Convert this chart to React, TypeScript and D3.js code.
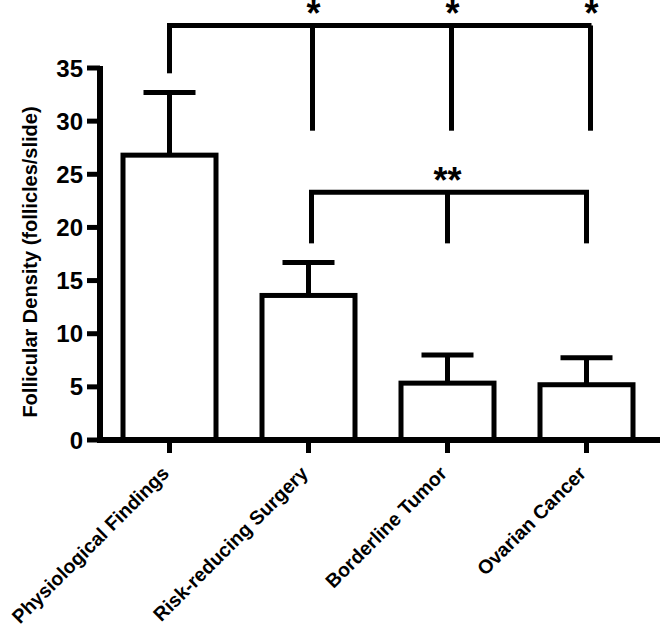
import React from "react";
import * as d3 from "d3";

const categories = ["Physiological Findings", "Risk-reducing Surgery", "Borderline Tumor", "Ovarian Cancer"];
const means = [26.8, 13.6, 5.35, 5.2];
const errors = [5.9, 3.1, 2.65, 2.55];
const yTicks = [0, 5, 10, 15, 20, 25, 30, 35];

// significance brackets: [fromIndex, toIndexes], bracket level, drop ends
const topBracketLevel = 39.0;
const topBracketFrom = 0;
const topBracketTo = [1, 2, 3];
const topBracketLeftEnd = 34.5;
const topBracketDropEnd = 29.1;
const topBracketLabels = ["*", "*", "*"];

const lowBracketLevel = 23.3;
const lowBracketFrom = 1;
const lowBracketTo = [2, 3];
const lowBracketDropEnd = 18.5;
const lowBracketLabel = "**";

const W = 660;
const H = 633;
const FONT = "'Liberation Sans', Arial, Helvetica, sans-serif";

export default function App() {
  const x0 = 100;
  const x = d3.scaleBand<string>().domain(categories).range([x0, x0 + 4 * 139]).paddingInner(0.33).paddingOuter(0.165);
  const y = d3.scaleLinear().domain([0, 35]).range([440, 68]);
  const cx = (i: number) => (x(categories[i]) as number) + x.bandwidth() / 2;
  const bw = 93;
  const cap = 52;
  const sw = 5;

  const topY = y(topBracketLevel);
  const lowY = y(lowBracketLevel);
  const topRight = cx(topBracketTo[topBracketTo.length - 1]);
  const lowRight = cx(lowBracketTo[lowBracketTo.length - 1]);

  return (
    <svg width={W} height={H} style={{ position: "absolute", left: 0, top: 0, background: "#fff" }}>
      <rect x={0} y={0} width={W} height={H} fill="#fff" />
      {/* bars */}
      {categories.map((c, i) => (
        <g key={c}>
          <line x1={cx(i)} x2={cx(i)} y1={y(means[i])} y2={y(means[i] + errors[i])} stroke="#000" strokeWidth={sw} />
          <line x1={cx(i) - cap / 2} x2={cx(i) + cap / 2} y1={y(means[i] + errors[i])} y2={y(means[i] + errors[i])} stroke="#000" strokeWidth={sw} />
          <rect x={cx(i) - bw / 2} y={y(means[i])} width={bw} height={y(0) - y(means[i])} fill="#fff" stroke="#000" strokeWidth={sw} />
        </g>
      ))}
      {/* y axis */}
      <line x1={x0} x2={x0} y1={y(35) - 2} y2={y(0) + 3} stroke="#000" strokeWidth={6} />
      {yTicks.map((t) => (
        <g key={t}>
          <line x1={x0 - 13} x2={x0} y1={y(t)} y2={y(t)} stroke="#000" strokeWidth={5} />
          <text x={x0 - 17} y={y(t)} dy="0.36em" textAnchor="end" fontFamily={FONT} fontWeight="bold" fontSize={24} fill="#000">
            {t}
          </text>
        </g>
      ))}
      {/* x axis */}
      <line x1={x0 - 3} x2={W} y1={y(0)} y2={y(0)} stroke="#000" strokeWidth={6} />
      {categories.map((c, i) => (
        <g key={c}>
          <line x1={cx(i)} x2={cx(i)} y1={y(0)} y2={y(0) + 13} stroke="#000" strokeWidth={5} />
          <text
            transform={`translate(${cx(i) - 9},${y(0) + 25}) rotate(-45)`}
            textAnchor="end"
            dy="0.7em"
            fontFamily={FONT}
            fontWeight="bold"
            fontSize={19.5}
            fill="#000"
          >
            {c}
          </text>
        </g>
      ))}
      {/* y title */}
      <text
        transform={`translate(30,${(y(0) + y(35)) / 2 + 8}) rotate(-90)`}
        textAnchor="middle"
        dy="0.36em"
        fontFamily={FONT}
        fontWeight="bold"
        fontSize={20}
        fill="#000"
      >
        Follicular Density (follicles/slide)
      </text>
      {/* top bracket */}
      <line x1={cx(topBracketFrom) - 2.5} x2={topRight + 5} y1={topY} y2={topY} stroke="#000" strokeWidth={5} />
      <line x1={cx(topBracketFrom)} x2={cx(topBracketFrom)} y1={topY} y2={y(topBracketLeftEnd)} stroke="#000" strokeWidth={5} />
      {topBracketTo.map((j, k) => (
        <g key={j}>
          <line x1={cx(j) + 4} x2={cx(j) + 4} y1={topY} y2={y(topBracketDropEnd)} stroke="#000" strokeWidth={5} />
          <text x={cx(j) + 5} y={topY + 0.5} textAnchor="middle" fontFamily={FONT} fontWeight="bold" fontSize={36} fill="#000">
            {topBracketLabels[k]}
          </text>
        </g>
      ))}
      {/* lower bracket */}
      <line x1={cx(lowBracketFrom) + 3 - 2.5} x2={lowRight + 2.5} y1={lowY} y2={lowY} stroke="#000" strokeWidth={5} />
      <line x1={cx(lowBracketFrom) + 3} x2={cx(lowBracketFrom) + 3} y1={lowY} y2={y(lowBracketDropEnd)} stroke="#000" strokeWidth={5} />
      {lowBracketTo.map((j) => (
        <line key={j} x1={cx(j)} x2={cx(j)} y1={lowY} y2={y(lowBracketDropEnd)} stroke="#000" strokeWidth={5} />
      ))}
      <text x={cx(lowBracketTo[0])} y={lowY + 0.5} textAnchor="middle" fontFamily={FONT} fontWeight="bold" fontSize={36} fill="#000">
        {lowBracketLabel}
      </text>
    </svg>
  );
}
